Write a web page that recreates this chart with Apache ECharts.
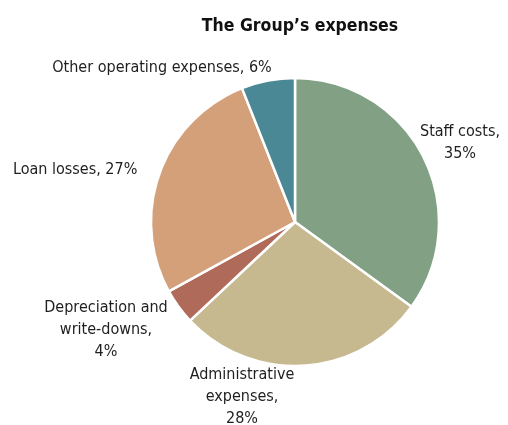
<!DOCTYPE html>
<html>
<head>
<meta charset="utf-8">
<script src="https://cdn.jsdelivr.net/npm/echarts@6/dist/echarts.min.js"></script>
<style>
  html, body { margin: 0; padding: 0; background: #fff; }
  #chart { width: 508px; height: 425px; }
</style>
</head>
<body>
<div id="chart"></div>
<script>
// Expense breakdown, clockwise from 12 o'clock
const categories = [
  'Staff costs',
  'Administrative expenses',
  'Depreciation and write-downs',
  'Loan losses',
  'Other operating expenses'
];
const shares = [35, 28, 4, 27, 6];
// Label text as it is wrapped around the pie
const labelTexts = [
  'Staff costs,\n35%',
  'Administrative\nexpenses,\n28%',
  'Depreciation and\nwrite-downs,\n4%',
  'Loan losses, 27%',
  'Other operating expenses, 6%'
];
const colors = ['#82a083', '#c6b88f', '#b06a5a', '#d4a07a', '#4b8896'];

// Where each label sits around the pie
const labelSpots = [
  { x: 460, y: 143, align: 'center' },
  { x: 242, y: 397, align: 'center' },
  { x: 106, y: 330, align: 'center' },
  { x: 13,  y: 170, align: 'left' },
  { x: 162, y: 68,  align: 'center' }
];

const FONT = '"Liberation Sans Narrow", "DejaVu Sans Condensed", "Roboto Condensed", sans-serif';

const chart = echarts.init(document.getElementById('chart'), null, { renderer: 'canvas' });
chart.setOption({
  animation: false,
  title: {
    text: 'The Group\u2019s expenses',
    left: 295,
    top: 12,
    textAlign: 'center',
    textStyle: { fontFamily: FONT, fontWeight: 'bold', fontSize: 17.5, color: '#111' }
  },
  series: [{
    type: 'pie',
    center: [295, 222],
    radius: [0, 144],
    startAngle: 90,
    clockwise: true,
    data: categories.map((name, i) => ({
      name,
      value: shares[i],
      itemStyle: { color: colors[i] }
    })),
    itemStyle: { borderColor: '#fff', borderWidth: 2.5 },
    label: {
      show: true,
      position: 'outside',
      formatter: p => labelTexts[p.dataIndex],
      fontFamily: FONT,
      fontSize: 16,
      lineHeight: 22,
      color: '#1e1e1e',
      align: 'center',
      overflow: 'none',
      width: 300
    },
    labelLine: { show: false },
    labelLayout: p => ({
      x: labelSpots[p.dataIndex].x,
      y: labelSpots[p.dataIndex].y,
      align: labelSpots[p.dataIndex].align,
      verticalAlign: 'middle',
      hideOverlap: false,
      moveOverlap: null
    }),
    emphasis: { disabled: true }
  }]
});
</script>
</body>
</html>
